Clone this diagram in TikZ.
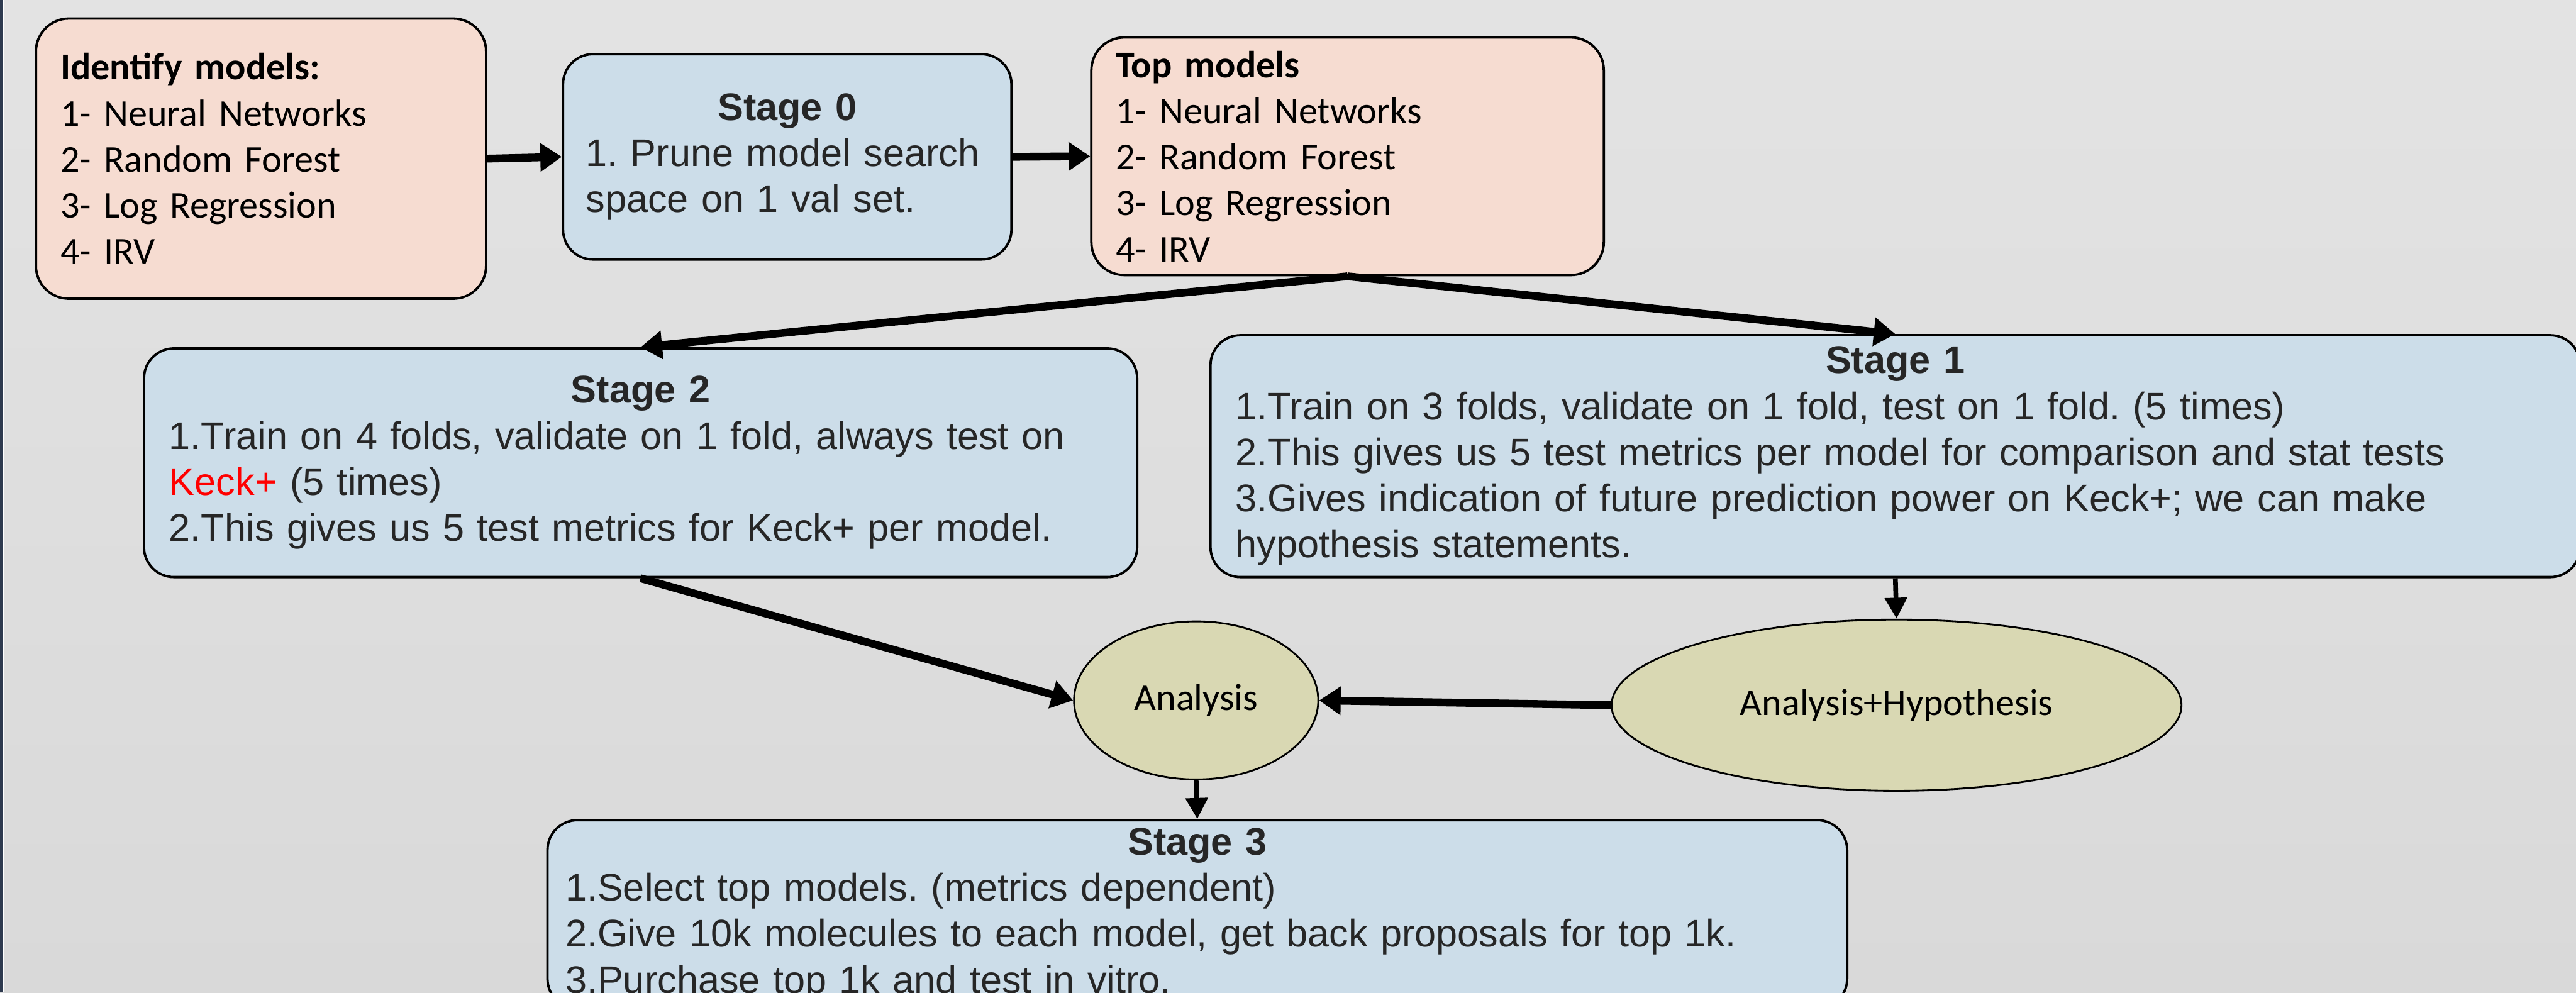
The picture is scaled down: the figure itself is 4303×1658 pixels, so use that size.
\documentclass[tikz,border=0pt]{standalone}
\usepackage{fontspec}
\setsansfont{Liberation Sans}
\newfontfamily\calibrifont{Carlito}
\usepackage{xcolor}
\usetikzlibrary{arrows.meta,shapes.geometric}

\definecolor{bgtop}{HTML}{E3E3E3}
\definecolor{bgbottom}{HTML}{D9D9D9}
\definecolor{pinkfill}{HTML}{F6DCD1}
\definecolor{bluefill}{HTML}{CCDDE9}
\definecolor{olivefill}{HTML}{D9D8B3}
\definecolor{stagetext}{HTML}{262626}
\definecolor{slideedge}{HTML}{2E3A4F}

\newcommand{\stagehead}[1]{\makebox[\linewidth][c]{\bfseries #1}}
\frenchspacing

\begin{document}
\begin{tikzpicture}[
  x=0.1mm, y=-0.1mm,
  modelbox/.style={draw, line width=0.4mm, fill=pinkfill, rounded corners=5.5mm, align=left,
    inner xsep=4.1mm, font=\calibrifont\fontsize{18}{21.9}\selectfont},
  stagebox/.style={draw, line width=0.4mm, fill=bluefill, rounded corners=5mm, align=left,
    inner xsep=4.2mm, text=stagetext, font=\sffamily\fontsize{18.3}{21.9}\selectfont},
  result/.style={draw, ellipse, line width=0.3mm, fill=olivefill, inner sep=0pt,
    font=\calibrifont\fontsize{18}{21.9}\selectfont},
  arrow/.style={-{Triangle[length=3.6mm, width=4.6mm]}, line width=1.3mm},
  thinarrow/.style={-{Triangle[length=3.5mm, width=3.6mm]}, line width=0.8mm}
]
  % Slide background
  \useasboundingbox (0,0) rectangle (4303,1658);
  \shade[top color=bgtop, bottom color=bgbottom] (0,0) rectangle (4303,1658);
  \fill[slideedge] (0,0) rectangle (4,1658);
  \fill[white] (4,0) rectangle (6,1658);

  % Top row
  \node[modelbox, text width=67mm, minimum height=46.8mm] (im) at (436,265)
    {\textbf{Identify models:}\\1- Neural Networks\\2- Random Forest\\3- Log Regression\\4- IRV};
  \node[stagebox, inner xsep=3.8mm, text width=67.3mm, minimum height=34.3mm] (s0) at (1315,262)
    {\stagehead{Stage 0}\\1. Prune model search\\space on 1 val set.};
  \node[modelbox, text width=77.4mm, minimum height=39.7mm] (tm) at (2251,261)
    {\textbf{Top models}\\1- Neural Networks\\2- Random Forest\\3- Log Regression\\4- IRV};

  % Stage 2 and Stage 1
  \node[stagebox, text width=157.5mm, minimum height=38.2mm] (s2) at (1070,773)
    {\stagehead{Stage 2}\\1.Train on 4 folds, validate on 1 fold, always test on\\
     \textcolor{red}{Keck+} (5 times)\\2.This gives us 5 test metrics for Keck+ per model.};
  \node[stagebox, text width=220.4mm, minimum height=40.4mm] (s1) at (3166,762)
    {\stagehead{Stage 1}\\1.Train on 3 folds, validate on 1 fold, test on 1 fold. (5 times)\\
     2.This gives us 5 test metrics per model for comparison and stat tests\\
     3.Gives indication of future prediction power on Keck+; we can make\\hypothesis statements.};

  % Analysis
  \node[result, minimum width=40.8mm, minimum height=26.4mm] (an) at (1998,1170) {Analysis};
  \node[result, minimum width=95.2mm, minimum height=28.6mm] (ah) at (3168,1178) {Analysis+Hypothesis};

  % Stage 3
  \node[stagebox, anchor=north, inner xsep=3mm, inner ysep=1.3mm, text width=211.1mm] (s3) at (2000,1368)
    {\stagehead{Stage 3}\\1.Select top models. (metrics dependent)\\
     2.Give 10k molecules to each model, get back proposals for top 1k.\\
     3.Purchase top 1k and test in vitro.};

  % Arrows
  \draw[arrow] (im.east) -- (s0.west);
  \draw[arrow] (s0.east) -- (tm.west);

  \draw[arrow] (tm.south) -- (s2.north);
  \draw[arrow] (tm.south) -- (s1.north);

  \draw[arrow] (s2.south) -- (an.west);
  \draw[thinarrow] (s1.south) -- (ah.north);
  \draw[arrow] (ah.west) -- (an.east);
  \draw[thinarrow] (an.south) -- (s3.north);
\end{tikzpicture}
\end{document}
